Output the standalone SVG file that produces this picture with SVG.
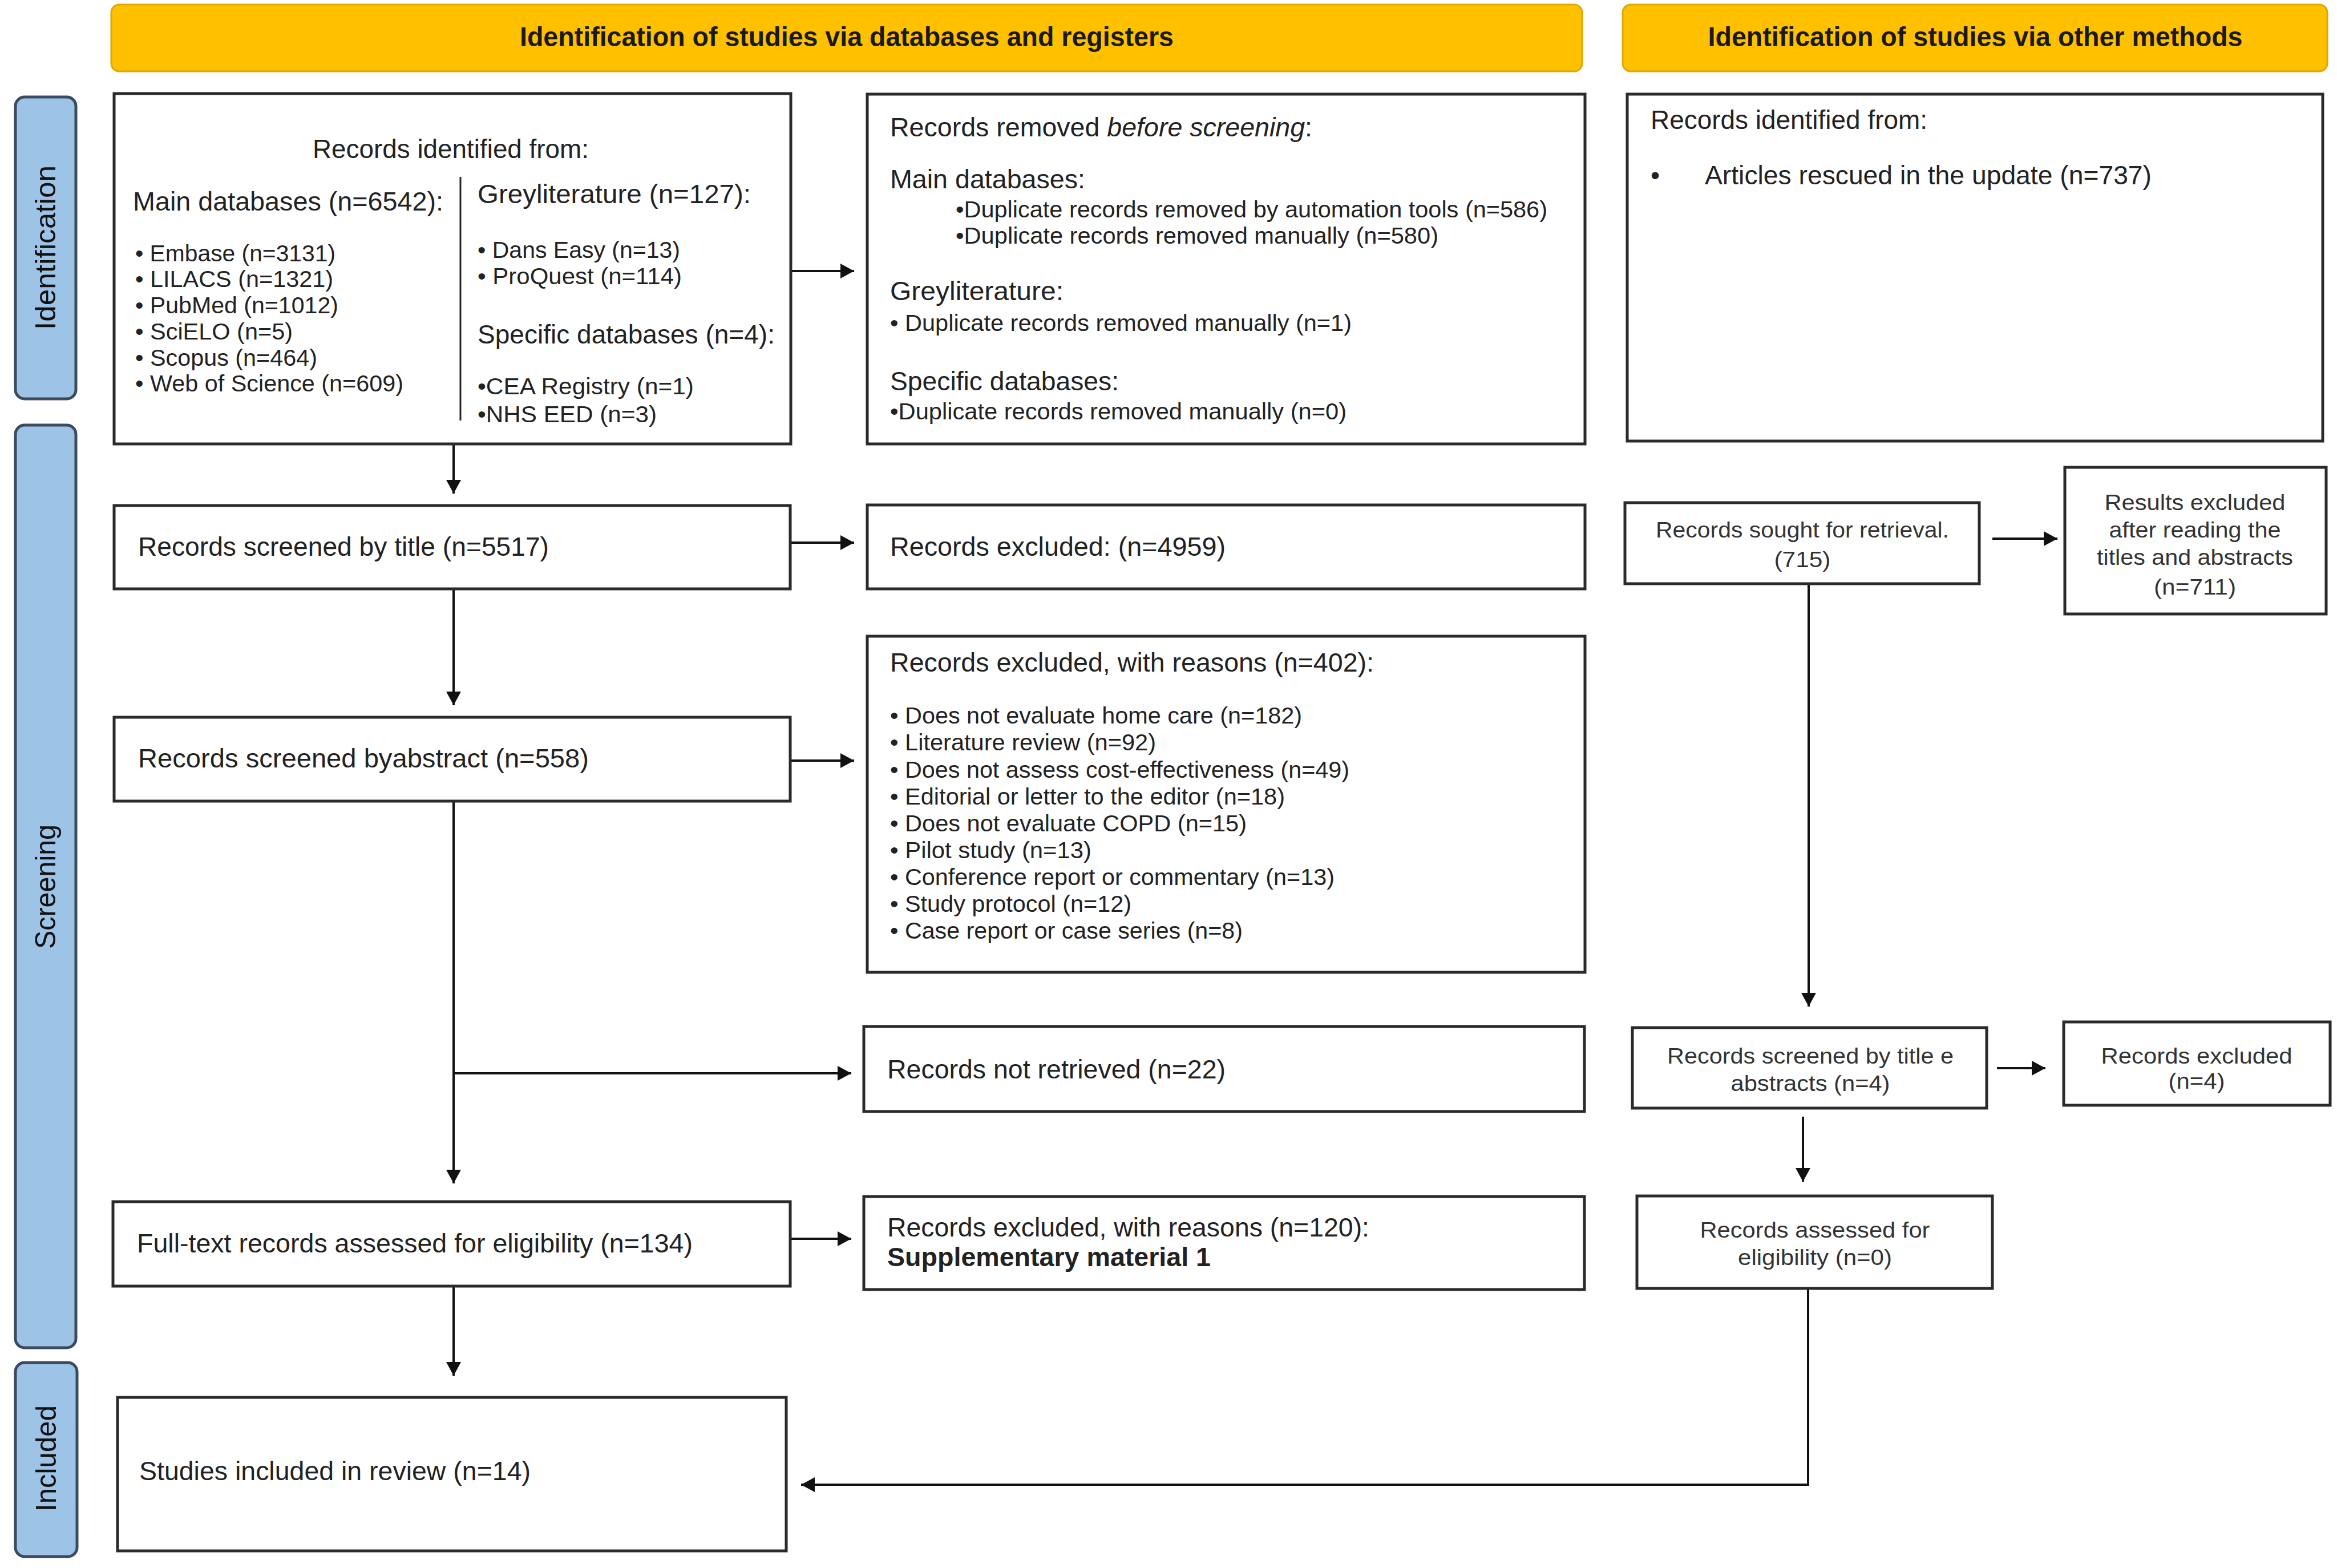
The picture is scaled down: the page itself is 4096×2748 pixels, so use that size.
<svg xmlns="http://www.w3.org/2000/svg" width="4096" height="2748" viewBox="0 0 4096 2748">
<defs>
<marker id="ah" viewBox="0 0 24 26" refX="24" refY="13" markerWidth="24" markerHeight="26" markerUnits="userSpaceOnUse" orient="auto">
<path d="M0,0 L24,13 L0,26 z" fill="#111"/>
</marker>
<style>
text{font-family:"Liberation Sans",Arial,sans-serif;fill:#222}
.banner{fill:#FFC000;stroke:#E0A800;stroke-width:3}
.bt{font-size:48px;font-weight:bold;fill:#1a1a1a;text-anchor:middle}
.lab{fill:#9DC3E6;stroke:#3B4A5C;stroke-width:5}
.lt{font-size:50px;text-anchor:middle;dominant-baseline:central;fill:#111}
.box{fill:#fff;stroke:#2a2a2a;stroke-width:5}
.h{font-size:46px}
.b{font-size:40px}
.r{font-size:38px;text-anchor:middle;fill:#333}
.c{fill:none;stroke:#111;stroke-width:4}
</style>
</defs>
<rect width="4096" height="2748" fill="#fff"/>

<g id="banner-databases">
<rect class="banner" x="195" y="8" width="2578" height="117" rx="14"/>
<text class="bt" x="1484" y="81" textLength="1146" lengthAdjust="spacingAndGlyphs">Identification of studies via databases and registers</text>
</g>
<g id="banner-other">
<rect class="banner" x="2844" y="8" width="1235" height="117" rx="14"/>
<text class="bt" x="3462" y="81" textLength="937" lengthAdjust="spacingAndGlyphs">Identification of studies via other methods</text>
</g>

<g id="label-identification">
<rect class="lab" x="27" y="170" width="106" height="529" rx="16"/>
<text class="lt" transform="translate(80,434) rotate(-90)" textLength="288" lengthAdjust="spacingAndGlyphs">Identification</text>
</g>
<g id="label-screening">
<rect class="lab" x="27" y="745" width="106" height="1617" rx="16"/>
<text class="lt" transform="translate(80,1554) rotate(-90)" textLength="218" lengthAdjust="spacingAndGlyphs">Screening</text>
</g>
<g id="label-included">
<rect class="lab" x="27" y="2388" width="108" height="340" rx="16"/>
<text class="lt" transform="translate(81,2556) rotate(-90)" textLength="186" lengthAdjust="spacingAndGlyphs">Included</text>
</g>

<g id="connectors">
<path class="c" d="M795,778 V865" marker-end="url(#ah)"/>
<path class="c" d="M1386,475 H1497" marker-end="url(#ah)"/>
<path class="c" d="M795,1032 V1236" marker-end="url(#ah)"/>
<path class="c" d="M1385,951 H1497" marker-end="url(#ah)"/>
<path class="c" d="M1385,1333 H1497" marker-end="url(#ah)"/>
<path class="c" d="M795,1404 V2074" marker-end="url(#ah)"/>
<path class="c" d="M795,1881 H1492" marker-end="url(#ah)"/>
<path class="c" d="M1385,2171 H1492" marker-end="url(#ah)"/>
<path class="c" d="M795,2254 V2411" marker-end="url(#ah)"/>
<path class="c" d="M3492,944 H3606" marker-end="url(#ah)"/>
<path class="c" d="M3170,1023 V1764" marker-end="url(#ah)"/>
<path class="c" d="M3500,1872 H3585" marker-end="url(#ah)"/>
<path class="c" d="M3160,1957 V2071" marker-end="url(#ah)"/>
<path class="c" d="M3169,2258 V2602 H1404" marker-end="url(#ah)"/>
</g>

<g id="records-identified">
<rect class="box" x="200" y="164" width="1186" height="614"/>
<text class="h" x="790" y="277" text-anchor="middle" textLength="484" lengthAdjust="spacingAndGlyphs">Records identified from:</text>
<text class="h" x="233" y="369" textLength="544" lengthAdjust="spacingAndGlyphs">Main databases (n=6542):</text>
<line x1="807" y1="310" x2="807" y2="737" stroke="#222" stroke-width="3"/>
<text class="h" x="837" y="356" textLength="479" lengthAdjust="spacingAndGlyphs">Greyliterature (n=127):</text>
<text class="b" x="237" y="458" textLength="351" lengthAdjust="spacingAndGlyphs">• Embase (n=3131)</text>
<text class="b" x="237" y="503" textLength="347" lengthAdjust="spacingAndGlyphs">• LILACS (n=1321)</text>
<text class="b" x="237" y="549" textLength="356" lengthAdjust="spacingAndGlyphs">• PubMed (n=1012)</text>
<text class="b" x="237" y="595" textLength="276" lengthAdjust="spacingAndGlyphs">• SciELO (n=5)</text>
<text class="b" x="237" y="641" textLength="319" lengthAdjust="spacingAndGlyphs">• Scopus (n=464)</text>
<text class="b" x="237" y="686" textLength="470" lengthAdjust="spacingAndGlyphs">• Web of Science (n=609)</text>
<text class="b" x="837" y="452" textLength="355" lengthAdjust="spacingAndGlyphs">• Dans Easy (n=13)</text>
<text class="b" x="837" y="498" textLength="358" lengthAdjust="spacingAndGlyphs">• ProQuest (n=114)</text>
<text class="h" x="837" y="602" textLength="521" lengthAdjust="spacingAndGlyphs">Specific databases (n=4):</text>
<text class="b" x="837" y="691" textLength="379" lengthAdjust="spacingAndGlyphs">•CEA Registry (n=1)</text>
<text class="b" x="837" y="740" textLength="314" lengthAdjust="spacingAndGlyphs">•NHS EED (n=3)</text>
</g>

<g id="records-removed">
<rect class="box" x="1520" y="165" width="1258" height="613"/>
<text class="h" x="1560" y="239" textLength="740" lengthAdjust="spacingAndGlyphs">Records removed <tspan font-style="italic">before screening</tspan>:</text>
<text class="h" x="1560" y="330" textLength="342" lengthAdjust="spacingAndGlyphs">Main databases:</text>
<text class="b" x="1675" y="381" textLength="1037" lengthAdjust="spacingAndGlyphs">•Duplicate records removed by automation tools (n=586)</text>
<text class="b" x="1675" y="427" textLength="846" lengthAdjust="spacingAndGlyphs">•Duplicate records removed manually (n=580)</text>
<text class="h" x="1560" y="526" textLength="304" lengthAdjust="spacingAndGlyphs">Greyliterature:</text>
<text class="b" x="1560" y="580" textLength="809" lengthAdjust="spacingAndGlyphs">• Duplicate records removed manually (n=1)</text>
<text class="h" x="1560" y="684" textLength="401" lengthAdjust="spacingAndGlyphs">Specific databases:</text>
<text class="b" x="1560" y="735" textLength="800" lengthAdjust="spacingAndGlyphs">•Duplicate records removed manually (n=0)</text>
</g>

<g id="records-identified-other">
<rect class="box" x="2852" y="165" width="1219" height="608"/>
<text class="h" x="2893" y="226" textLength="485" lengthAdjust="spacingAndGlyphs">Records identified from:</text>
<text class="h" x="2893" y="323">•</text>
<text class="h" x="2988" y="323" textLength="783" lengthAdjust="spacingAndGlyphs">Articles rescued in the update (n=737)</text>
</g>

<g id="screened-title">
<rect class="box" x="200" y="886" width="1185" height="146"/>
<text class="h" x="242" y="974" textLength="720" lengthAdjust="spacingAndGlyphs">Records screened by title (n=5517)</text>
</g>

<g id="excluded-4959">
<rect class="box" x="1520" y="885" width="1258" height="147"/>
<text class="h" x="1560" y="974" textLength="588" lengthAdjust="spacingAndGlyphs">Records excluded: (n=4959)</text>
</g>

<g id="screened-abstract">
<rect class="box" x="200" y="1257" width="1185" height="147"/>
<text class="h" x="242" y="1345" textLength="790" lengthAdjust="spacingAndGlyphs">Records screened byabstract (n=558)</text>
</g>

<g id="excluded-402">
<rect class="box" x="1520" y="1115" width="1258" height="589"/>
<text class="h" x="1560" y="1177" textLength="848" lengthAdjust="spacingAndGlyphs">Records excluded, with reasons (n=402):</text>
<text class="b" x="1560" y="1268" textLength="722" lengthAdjust="spacingAndGlyphs">• Does not evaluate home care (n=182)</text>
<text class="b" x="1560" y="1315" textLength="466" lengthAdjust="spacingAndGlyphs">• Literature review (n=92)</text>
<text class="b" x="1560" y="1363" textLength="805" lengthAdjust="spacingAndGlyphs">• Does not assess cost-effectiveness (n=49)</text>
<text class="b" x="1560" y="1410" textLength="692" lengthAdjust="spacingAndGlyphs">• Editorial or letter to the editor (n=18)</text>
<text class="b" x="1560" y="1457" textLength="625" lengthAdjust="spacingAndGlyphs">• Does not evaluate COPD (n=15)</text>
<text class="b" x="1560" y="1504" textLength="353" lengthAdjust="spacingAndGlyphs">• Pilot study (n=13)</text>
<text class="b" x="1560" y="1551" textLength="779" lengthAdjust="spacingAndGlyphs">• Conference report or commentary (n=13)</text>
<text class="b" x="1560" y="1598" textLength="423" lengthAdjust="spacingAndGlyphs">• Study protocol (n=12)</text>
<text class="b" x="1560" y="1645" textLength="618" lengthAdjust="spacingAndGlyphs">• Case report or case series (n=8)</text>
</g>

<g id="not-retrieved">
<rect class="box" x="1514" y="1799" width="1263" height="149"/>
<text class="h" x="1555" y="1890" textLength="593" lengthAdjust="spacingAndGlyphs">Records not retrieved (n=22)</text>
</g>

<g id="full-text">
<rect class="box" x="198" y="2106" width="1187" height="148"/>
<text class="h" x="240" y="2195" textLength="974" lengthAdjust="spacingAndGlyphs">Full-text records assessed for eligibility (n=134)</text>
</g>

<g id="excluded-120">
<rect class="box" x="1514" y="2097" width="1263" height="163"/>
<text class="h" x="1555" y="2167" textLength="845" lengthAdjust="spacingAndGlyphs">Records excluded, with reasons (n=120):</text>
<text class="h" x="1555" y="2219" font-weight="bold" textLength="567" lengthAdjust="spacingAndGlyphs">Supplementary material 1</text>
</g>

<g id="included">
<rect class="box" x="206" y="2449" width="1172" height="269"/>
<text class="h" x="244" y="2594" textLength="686" lengthAdjust="spacingAndGlyphs">Studies included in review (n=14)</text>
</g>

<g id="sought-retrieval">
<rect class="box" x="2848" y="881" width="621" height="142"/>
<text class="r" x="3159" y="942" textLength="514" lengthAdjust="spacingAndGlyphs">Records sought for retrieval.</text>
<text class="r" x="3159" y="994" textLength="99" lengthAdjust="spacingAndGlyphs">(715)</text>
</g>

<g id="results-excluded-711">
<rect class="box" x="3619" y="819" width="458" height="257"/>
<text class="r" x="3847" y="894" textLength="317" lengthAdjust="spacingAndGlyphs">Results excluded</text>
<text class="r" x="3847" y="942" textLength="301" lengthAdjust="spacingAndGlyphs">after reading the</text>
<text class="r" x="3847" y="990" textLength="344" lengthAdjust="spacingAndGlyphs">titles and abstracts</text>
<text class="r" x="3847" y="1042" textLength="144" lengthAdjust="spacingAndGlyphs">(n=711)</text>
</g>

<g id="screened-title-abstracts">
<rect class="box" x="2861" y="1801" width="621" height="141"/>
<text class="r" x="3173" y="1864" textLength="502" lengthAdjust="spacingAndGlyphs">Records screened by title e</text>
<text class="r" x="3173" y="1912" textLength="279" lengthAdjust="spacingAndGlyphs">abstracts (n=4)</text>
</g>

<g id="excluded-4">
<rect class="box" x="3617" y="1791" width="467" height="146"/>
<text class="r" x="3850" y="1864" textLength="335" lengthAdjust="spacingAndGlyphs">Records excluded</text>
<text class="r" x="3850" y="1908" textLength="99" lengthAdjust="spacingAndGlyphs">(n=4)</text>
</g>

<g id="assessed-eligibility">
<rect class="box" x="2869" y="2096" width="623" height="162"/>
<text class="r" x="3181" y="2169" textLength="403" lengthAdjust="spacingAndGlyphs">Records assessed for</text>
<text class="r" x="3181" y="2217" textLength="270" lengthAdjust="spacingAndGlyphs">eligibility (n=0)</text>
</g>
</svg>
